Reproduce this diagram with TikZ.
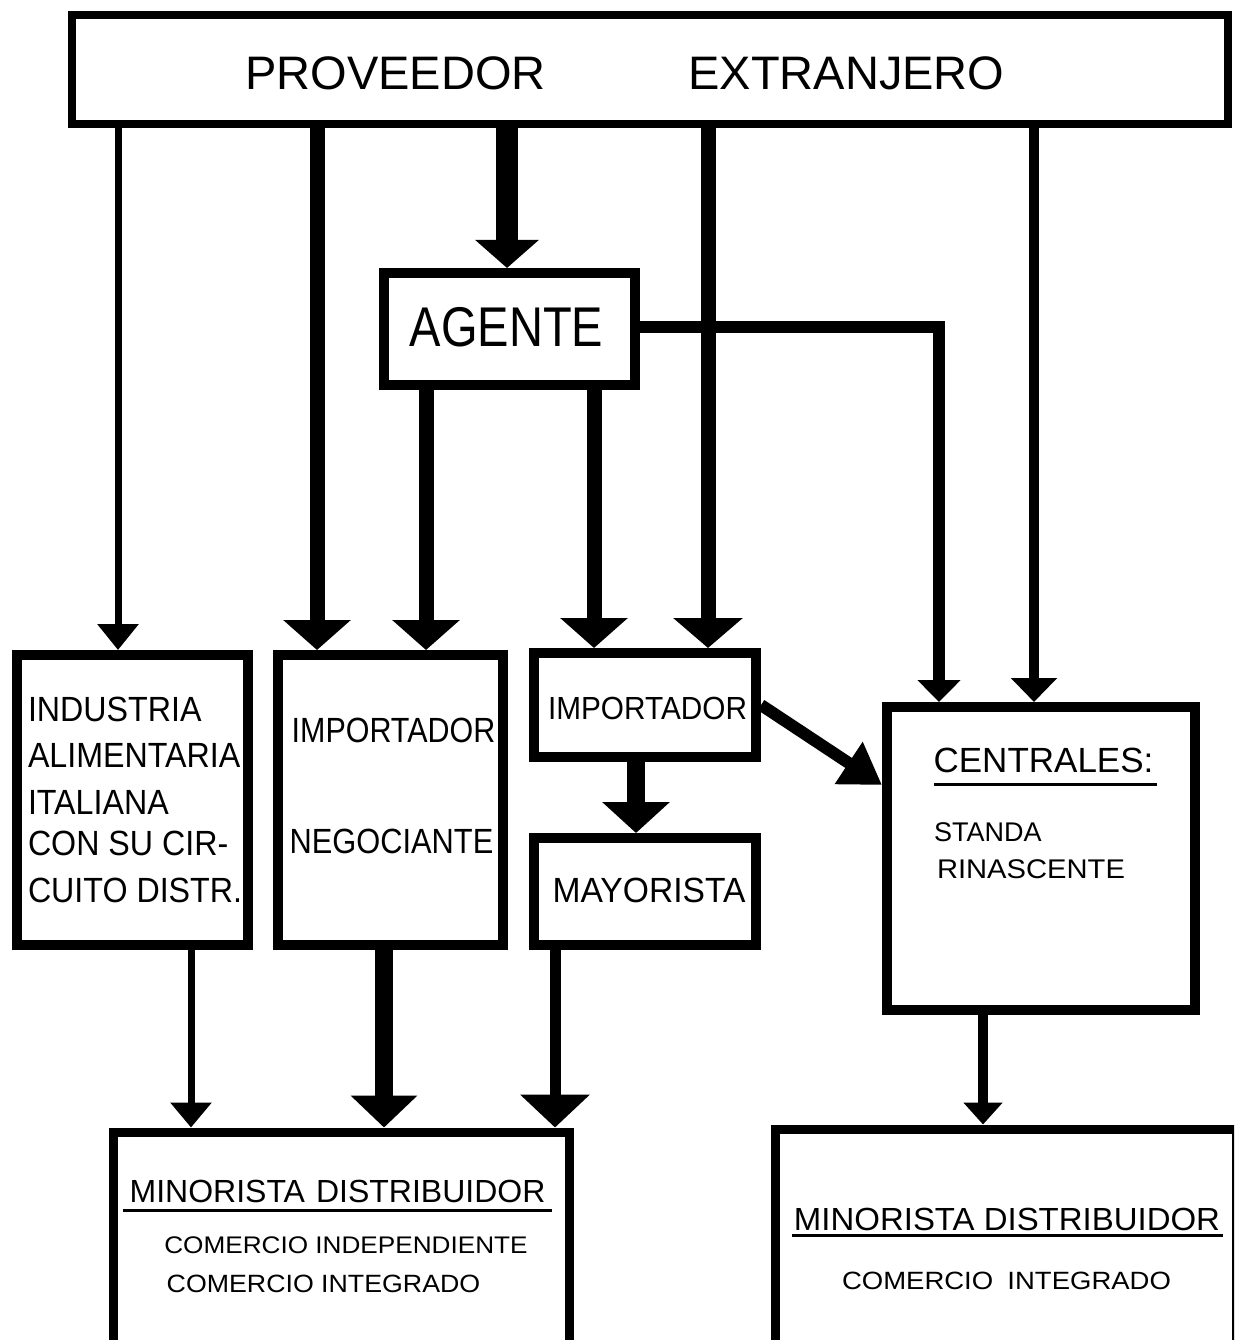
\documentclass[tikz,border=0pt]{standalone}
\usepackage{fontspec}
\setmainfont{Liberation Sans}
\usetikzlibrary{arrows.meta}
\newcommand{\fsz}[1]{\fontsize{#1pt}{#1pt}\selectfont}
\begin{document}
\begin{tikzpicture}[x=1pt,y=-1pt,
  box/.style={draw, line width=10pt, inner sep=0pt},
  lbl/.style={inner sep=0pt, outer sep=0pt},
  flow/.style n args={3}{line width=#1pt, -{Triangle[width=#2pt,length=#3pt]}},
  uline/.style={line width=3pt}
]
\useasboundingbox (0,0) rectangle (1234,1340);
\clip (0,0) rectangle (1234,1340);

% boxes
\node[box, line width=8pt, minimum width=1156pt, minimum height=109pt] (prov) at (650,69.5) {};
\node[box, minimum width=251pt, minimum height=112pt] (agente) at (509.5,329) {};
\node[box, minimum width=231pt, minimum height=290pt] (ind) at (132.5,800) {};
\node[box, minimum width=225pt, minimum height=290pt] (neg) at (390.5,800) {};
\node[box, minimum width=222pt, minimum height=104pt] (imp) at (645,705) {};
\node[box, minimum width=222pt, minimum height=107pt] (may) at (645,891.5) {};
\node[box, minimum width=308pt, minimum height=303pt] (cen) at (1041,858.5) {};
\node[box, line width=9pt, minimum width=456pt, minimum height=228pt] (minL) at (341,1246) {};
\node[box, line width=9pt, minimum width=461pt, minimum height=231pt] (minR) at (1005.5,1244.5) {};

% labels
\node[lbl, font=\fsz{47}] (tprov) at (395.5,73.5) {PROVEEDOR};
\node[lbl, font=\fsz{47}] (text) at (846.5,73.5) {EXTRANJERO};
\node[lbl, font=\fsz{56}, xscale=0.84] (tage) at (506.5,327) {AGENTE};

\begin{scope}[every node/.style={lbl, anchor=west, font=\fsz{35}, xscale=0.92}]
\node (ind1) at (28,709.5) {INDUSTRIA};
\node (ind2) at (28,755.5) {ALIMENTARIA};
\node (ind3) at (28,802.5) {ITALIANA};
\node (ind4) at (28,843.5) {CON SU CIR-};
\node (ind5) at (28,890.5) {CUITO DISTR.};
\end{scope}

\node[lbl, font=\fsz{35}, xscale=0.87] (neg1) at (393.5,730.5) {IMPORTADOR};
\node[lbl, font=\fsz{35}, xscale=0.88] (neg2) at (391.5,841.5) {NEGOCIANTE};
\node[lbl, font=\fsz{32}, xscale=0.93] (imp1) at (647.5,708.5) {IMPORTADOR};
\node[lbl, font=\fsz{35}, xscale=0.96] (may1) at (649,890.5) {MAYORISTA};

\node[lbl, font=\fsz{35}] (cen1) at (1043.5,760.5) {CENTRALES:};
\draw[uline] (934,784) -- (1157,784);
\node[lbl, anchor=west, font=\fsz{27}] (cen2) at (934,832) {STANDA};
\node[lbl, anchor=west, font=\fsz{27}, xscale=1.08] (cen3) at (937,869) {RINASCENTE};

\node[lbl, font=\fsz{32}] (ml1) at (337.5,1191.5) {MINORISTA\hspace{11pt}DISTRIBUIDOR};
\draw[uline] (123,1210) -- (552,1210);
\node[lbl, font=\fsz{24}, xscale=1.09] (ml2) at (346,1245) {COMERCIO INDEPENDIENTE};
\node[lbl, font=\fsz{25}, xscale=1.07] (ml3) at (323.5,1284) {COMERCIO INTEGRADO};

\node[lbl, font=\fsz{32}, xscale=1.03] (mr1) at (1007,1219) {MINORISTA DISTRIBUIDOR};
\draw[uline] (792,1235) -- (1223,1235);
\node[lbl, font=\fsz{25}, xscale=1.1] (mr2) at (1006.5,1281) {COMERCIO\hspace{6pt} INTEGRADO};

% connector columns
\coordinate (a1) at (118,0);
\coordinate (a2) at (317,0);
\coordinate (a3) at (507,0);
\coordinate (a4) at (708,0);
\coordinate (a5) at (1034,0);
\coordinate (a6) at (426,0);
\coordinate (a7) at (594,0);
\coordinate (k8) at (939,327);
\coordinate (a9) at (636,0);
\coordinate (b1) at (191,0);
\coordinate (b2) at (384,0);
\coordinate (b3) at (555,0);
\coordinate (b4) at (983,0);
\coordinate (k785) at (0,785);

% connectors
\draw[flow={7}{40}{26}] (a1 |- prov.south) -- (a1 |- ind.north);
\draw[flow={15}{66}{30}] (a2 |- prov.south) -- (a2 |- neg.north);
\draw[flow={22}{62}{28}] (a3 |- prov.south) -- (a3 |- agente.north);
\draw[flow={15}{68}{30}] (a4 |- prov.south) -- (a4 |- imp.north);
\draw[flow={10}{45}{24}] (a5 |- prov.south) -- (a5 |- cen.north);
\draw[flow={15}{66}{30}] (a6 |- agente.south) -- (a6 |- neg.north);
\draw[flow={15}{66}{30}] (a7 |- agente.south) -- (a7 |- imp.north);
\draw[flow={12}{42}{22}] (agente.east |- k8) -- (k8) -- (k8 |- cen.north);
\draw[flow={18}{66}{31}] (a9 |- imp.south) -- (a9 |- may.north);
\draw[flow={12}{48}{40}] (imp.east) -- (cen.west |- k785);
\draw[flow={7}{40}{25}] (b1 |- ind.south) -- (b1 |- minL.north);
\draw[flow={18}{65}{32}] (b2 |- neg.south) -- (b2 |- minL.north);
\draw[flow={11}{68}{33}] (b3 |- may.south) -- (b3 |- minL.north);
\draw[flow={10}{38}{22}] (b4 |- cen.south) -- (b4 |- minR.north);
\end{tikzpicture}
\end{document}
